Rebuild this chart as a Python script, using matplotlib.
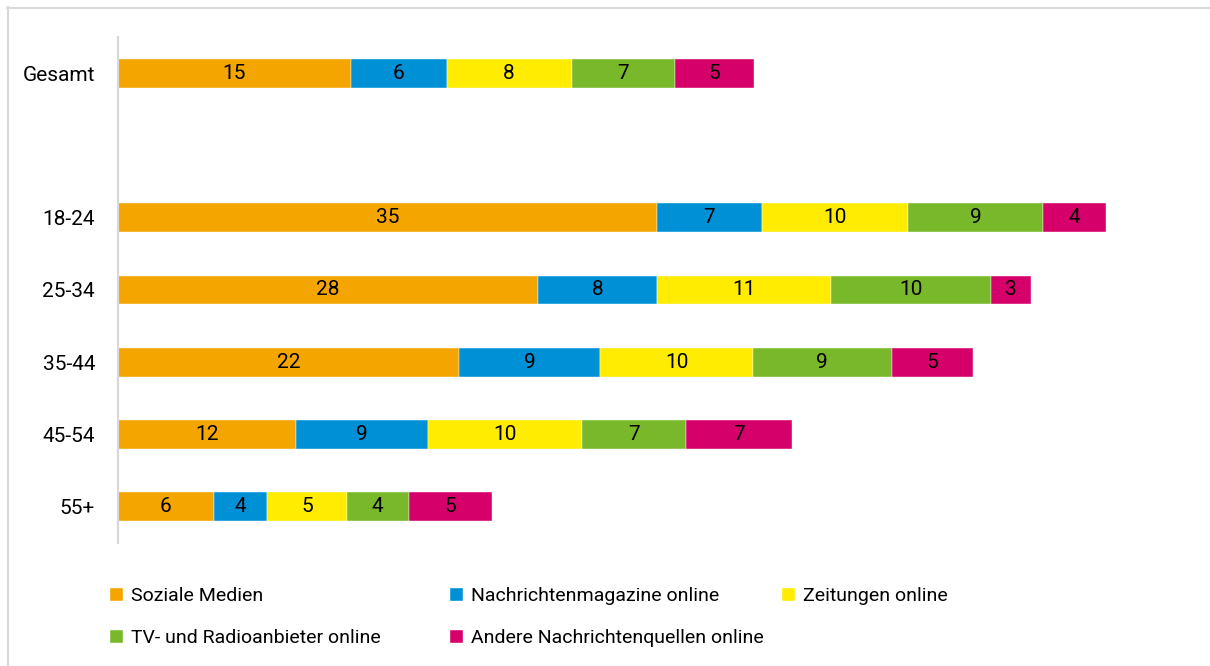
import numpy as np
import matplotlib.pyplot as plt
from matplotlib.lines import Line2D

plt.rcParams['font.family'] = ['Roboto', 'DejaVu Sans']

# Gruppen (Gesamt oben, danach eine Leerzeile, dann die Altersgruppen)
groups = ["Gesamt", "18-24", "25-34", "35-44", "45-54", "55+"]
rows = [0, 2, 3, 4, 5, 6]

series = ["Soziale Medien", "Nachrichtenmagazine online", "Zeitungen online",
          "TV- und Radioanbieter online", "Andere Nachrichtenquellen online"]
colors = ["#F5A500", "#0090D6", "#FFEC00", "#78B82A", "#D6006A"]

# Werte in Prozent (aus der Grafik geschaetzt)
soziale = [15.3, 35.4, 27.6, 22.4, 11.7, 6.3]
magazine = [6.3, 6.9, 7.8, 9.3, 8.7, 3.52]
zeitungen = [8.2, 9.6, 11.45, 10.0, 10.1, 5.2]
tv_radio = [6.8, 8.9, 10.49, 9.15, 6.85, 4.1]
andere = [5.2, 4.1, 2.64, 5.3, 6.95, 5.48]
values = [soziale, magazine, zeitungen, tv_radio, andere]

fig = plt.figure(figsize=(12.1, 6.66), dpi=100)
ax = fig.add_axes([118 / 1210, 1 - 543 / 666, 1078 / 1210, 506 / 666])

left = np.zeros(len(groups))
handles = []
for name, vals, col in zip(series, values, colors):
    vals = np.array(vals)
    bars = ax.barh(rows, vals, left=left, height=0.4, color=col,
                   edgecolor="white", linewidth=0.3, label=name)
    ax.bar_label(bars, labels=[f"{v:.0f}" for v in vals], label_type="center",
                 fontsize=15, color="black")
    handles.append(bars)
    left += vals

ax.set_xlim(0, 1078 / 15.22)
ax.set_ylim(6.5, -0.5)
ax.set_yticks(rows)
ax.set_yticklabels(groups, fontsize=15)
ax.tick_params(axis="y", length=0, pad=16.5)
ax.set_xticks([])
for s in ["top", "right", "bottom"]:
    ax.spines[s].set_visible(False)
ax.spines["left"].set_color("#D9D9D9")
ax.spines["left"].set_linewidth(1.6)

# Legende in drei Spalten
cols = [([0, 3], 110), ([1, 4], 450), ([2], 782)]
for idx, xpx in cols:
    fig.legend([handles[i] for i in idx], [series[i] for i in idx],
               loc="upper left", bbox_to_anchor=(xpx / 1210, 1 - 587 / 666),
               frameon=False, fontsize=14, borderpad=0, borderaxespad=0,
               handlelength=0.65, handleheight=0.65, handletextpad=0.45,
               labelspacing=1.25)

# heller Rahmen oben und links
fig.add_artist(Line2D([7 / 1210, 1], [1 - 7.5 / 666, 1 - 7.5 / 666],
                      transform=fig.transFigure, color="#D9D9D9", lw=1.5))
fig.add_artist(Line2D([7.5 / 1210, 7.5 / 1210], [0, 1 - 7 / 666],
                      transform=fig.transFigure, color="#D9D9D9", lw=1.5))

fig.savefig("out.png", dpi=100)
